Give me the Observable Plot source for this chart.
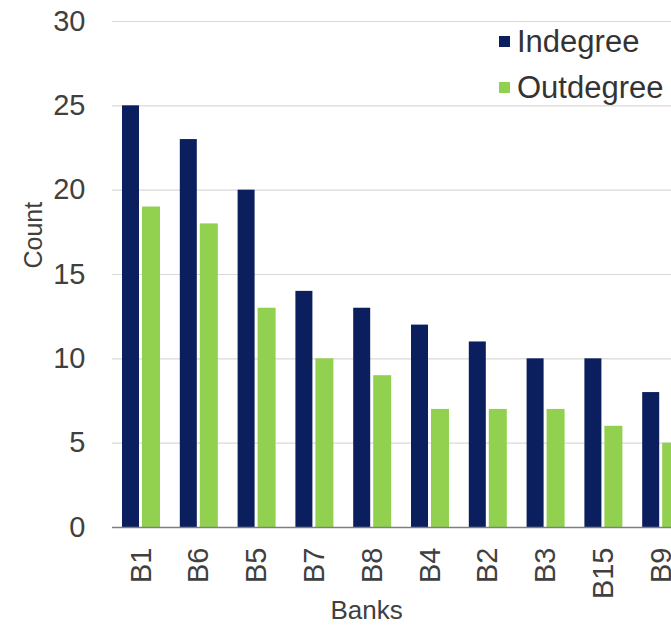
<!DOCTYPE html>
<html>
<head>
<meta charset="utf-8">
<script src="https://cdn.jsdelivr.net/npm/d3@7"></script>
<script src="https://cdn.jsdelivr.net/npm/@observablehq/plot@0.6"></script>
<style>
  html, body { margin: 0; padding: 0; background: #fff; overflow: hidden; width: 671px; height: 628px; }
  #wrap { position: relative; width: 671px; height: 628px; overflow: hidden; }
  #wrap svg { max-width: none !important; }
  #legend { position: absolute; left: 499px; top: 19px; font-family: "Liberation Sans", Arial, sans-serif; font-size: 31px; color: #333; line-height: 46px; white-space: nowrap; }
  #legend .sw { display: inline-block; width: 11px; height: 11px; margin-right: 7px; vertical-align: 5px; }
</style>
</head>
<body>
<div id="wrap"></div>
<script>
const banks = ["B1", "B6", "B5", "B7", "B8", "B4", "B2", "B3", "B15", "B9"];
const indegree = [25, 23, 20, 14, 13, 12, 11, 10, 10, 8];
const outdegree = [19, 18, 13, 10, 9, 7, 7, 7, 6, 5];
const seriesNames = ["Indegree", "Outdegree"];
const seriesColors = ["#0b1f5e", "#92d050"];
const yTicks = [0, 5, 10, 15, 20, 25, 30];

const inData = banks.map((b, i) => ({bank: b, value: indegree[i]}));
const outData = banks.map((b, i) => ({bank: b, value: outdegree[i]}));

const font = '"Liberation Sans", Arial, sans-serif';

const chart = Plot.plot({
  width: 690,
  height: 628,
  marginLeft: 112,
  marginRight: 0,
  marginTop: 21,
  marginBottom: 101,
  style: {fontFamily: font, background: "transparent", color: "#333", maxWidth: "none"},
  x: {domain: banks, padding: 0, round: false, axis: null},
  y: {domain: [0, 30], axis: null},
  marks: [
    Plot.ruleY(yTicks.filter(d => d > 0), {stroke: "#d9d9d9", strokeWidth: 1.2}),
    Plot.barY(inData, {x: "bank", y: "value", fill: seriesColors[0], insetLeft: 10, insetRight: 30.8}),
    Plot.barY(outData, {x: "bank", y: "value", fill: seriesColors[1], insetLeft: 30, insetRight: 9.8}),
    Plot.ruleY([0], {stroke: "#7f7f7f", strokeWidth: 1.5}),
    Plot.axisY({ticks: yTicks, tickSize: 0, tickPadding: 27, fontSize: 29, label: null, fill: "#404040"}),
    Plot.axisX({tickSize: 0, tickPadding: 20, tickRotate: -90, fontSize: 29, label: null, fill: "#404040"}),
    Plot.text(["Count"], {frameAnchor: "left", rotate: -90, dx: -79, dy: -6, fontSize: 25, fill: "#404040"}),
    Plot.text(["Banks"], {frameAnchor: "bottom", dx: -35, dy: 91, fontSize: 26, fill: "#404040", textAnchor: "middle"})
  ]
});

const wrap = document.getElementById("wrap");
wrap.appendChild(chart);

const legend = document.createElement("div");
legend.id = "legend";
seriesNames.forEach((name, i) => {
  const row = document.createElement("div");
  const sw = document.createElement("span");
  sw.className = "sw";
  sw.style.background = seriesColors[i];
  row.appendChild(sw);
  row.appendChild(document.createTextNode(name));
  legend.appendChild(row);
});
wrap.appendChild(legend);
</script>
</body>
</html>
